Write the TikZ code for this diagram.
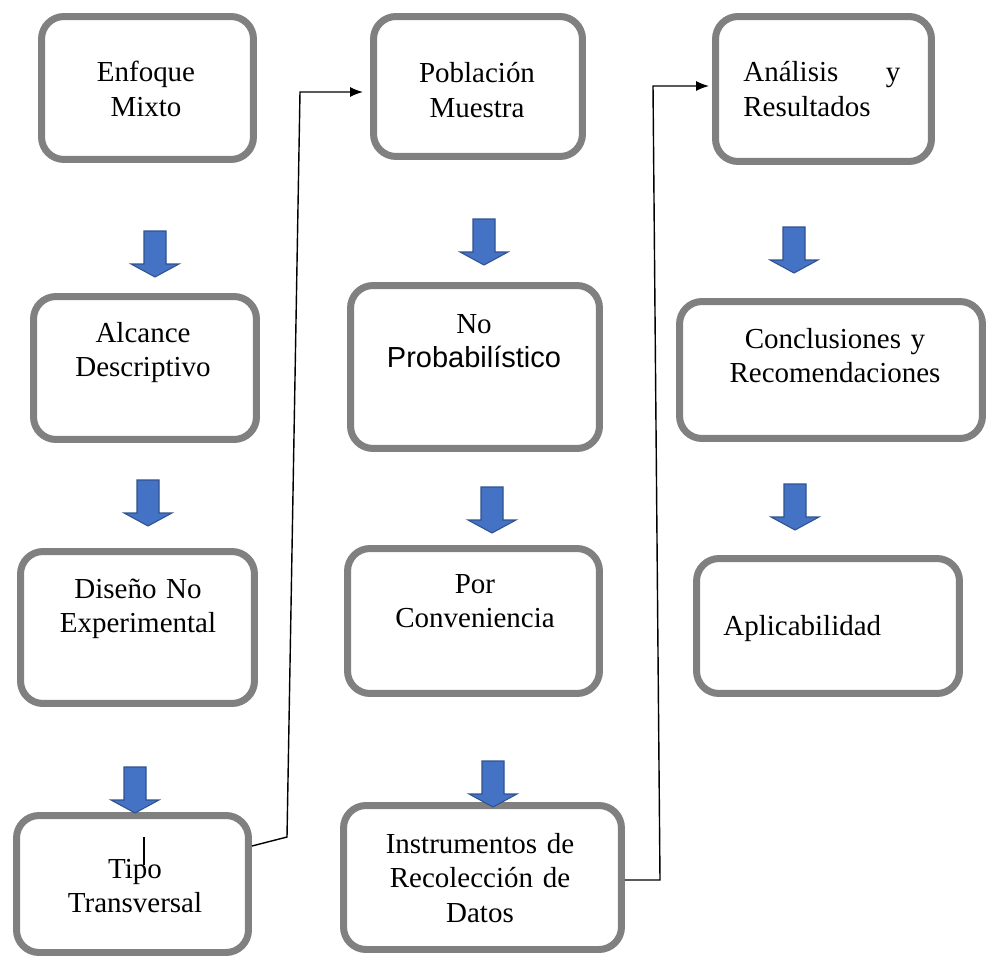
\documentclass[tikz,border=0pt]{standalone}
\usepackage{fontspec}
\setmainfont{Liberation Serif}
\newfontfamily\arialfont{Liberation Sans}
\usetikzlibrary{arrows.meta}
\definecolor{boxgray}{HTML}{808080}
\definecolor{arrowblue}{HTML}{4472C4}
\definecolor{arrowedge}{HTML}{2F528F}
% block arrow pointing down: #1 = x of its axis, #2 = y of its tail
\newcommand\downblock[2]{%
  \draw[downarrow] (#1-11,#2) -- (#1+11,#2) -- (#1+11,#2+33) -- (#1+24,#2+33)
    -- (#1,#2+46) -- (#1-24,#2+33) -- (#1-11,#2+33) -- cycle;}

\begin{document}
\begin{tikzpicture}[x=0.02cm,y=-0.02cm,
  box/.style={draw=boxgray, line width=0.14cm, rounded corners=0.45cm, inner sep=0pt},
  txt/.style={anchor=base, inner sep=0pt, text width=6cm, align=center, font=\fontsize{16.5}{19.84}\selectfont},
  downarrow/.style={draw=arrowedge, fill=arrowblue, line width=0.6pt, line join=miter},
  conn/.style={line width=0.8pt}]
\useasboundingbox (0,0) rectangle (986,956);

% first column
\node[box, minimum width=4.24cm, minimum height=2.86cm] (enf) at (147.5,88) {};
\node[box, minimum width=4.46cm, minimum height=2.86cm] (alc) at (145,368) {};
\node[box, minimum width=4.68cm, minimum height=3.04cm] (dis) at (137.5,627.5) {};
\node[box, minimum width=4.64cm, minimum height=2.74cm] (tipo) at (132.5,884) {};
\node[txt] (enft) at (146,82) {Enfoque\\Mixto};
\node[txt] (alct) at (143,342) {Alcance\\Descriptivo};
\node[txt] (dist) at (138,598) {Diseño No\\Experimental};
\node[txt] (tipot) at (135,878) {Tipo\\Transversal};
\draw[line width=0.6pt] (144,837) -- (144,865);

% second column
\node[box, minimum width=4.18cm, minimum height=2.80cm] (pob) at (478,86.5) {};
\node[box, minimum width=4.98cm, minimum height=3.26cm] (nop) at (475,367) {};
\node[box, minimum width=5.04cm, minimum height=2.90cm] (por) at (473.5,621) {};
\node[box, minimum width=5.56cm, minimum height=2.88cm] (ins) at (482.5,877.5) {};
\node[txt] (pobt) at (477,83) {Población\\Muestra};
\node[txt] (nopt) at (474,333) {No\\{\arialfont Probabilístico}};
\node[txt] (port) at (475,593) {Por\\Conveniencia};
\node[txt] (inst) at (480,853) {Instrumentos de\\Recolección de\\Datos};

% third column
\node[box, minimum width=4.32cm, minimum height=2.90cm] (ana) at (823.5,89) {};
\node[box, minimum width=6.06cm, minimum height=2.74cm] (con) at (831,370) {};
\node[box, minimum width=5.26cm, minimum height=2.70cm] (apl) at (828,626) {};
\node[txt, text width=3.14cm, align=left, anchor=base west] (anat) at (743,82) {Análisis\hfill y\\Resultados};
\node[txt] (cont) at (835,348) {Conclusiones y\\Recomendaciones};
\node[txt, text width=4cm, align=left, anchor=base west] (aplt) at (723,635) {Aplicabilidad};

% blue arrows
\downblock{155}{231}
\downblock{148}{480}
\downblock{135}{767}
\downblock{484}{219}
\downblock{492}{487}
\downblock{493}{761}
\downblock{794}{227}
\downblock{795}{484}

% connectors between columns
\coordinate (k1) at (287,837);
\coordinate (k2) at (300,92);
\draw[conn, -{Latex[length=0.26cm,width=0.2cm]}, shorten >=0.14cm]
  (tipo.east |- 0,846) -- (k1) -- (k2) -- (pob.west |- k2);
\coordinate (k3) at (660,880);
\coordinate (k4) at (653,86);
\draw[conn, -{Latex[length=0.26cm,width=0.2cm]}, shorten >=0.06cm]
  (ins.east |- k3) -- (k3) -- (k4) -- (ana.west |- k4);
\end{tikzpicture}
\end{document}
